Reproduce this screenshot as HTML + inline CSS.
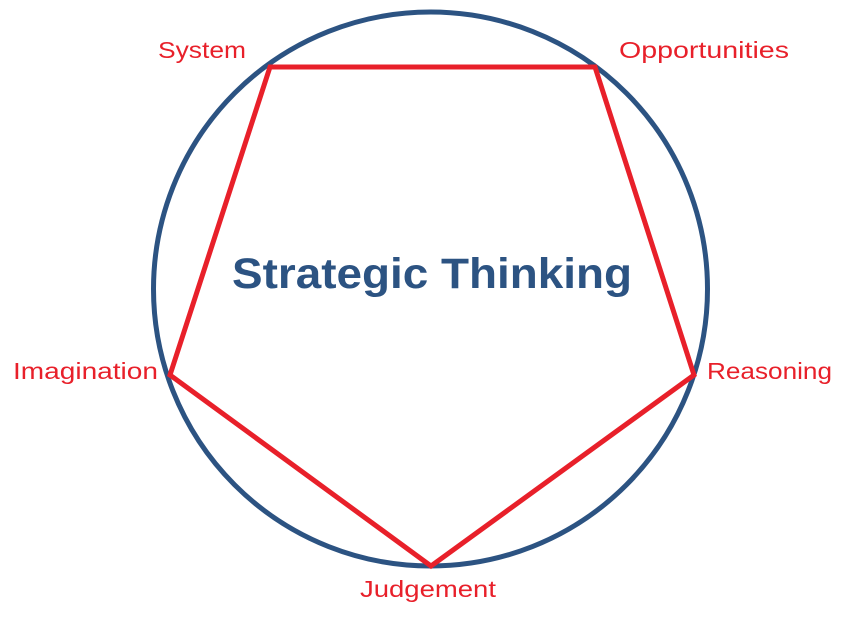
<!DOCTYPE html>
<html><head><meta charset="utf-8"><style>
html,body{margin:0;padding:0;background:#fff;}
svg{display:block;}
</style></head><body>
<svg width="843" height="626" viewBox="0 0 843 626" xmlns="http://www.w3.org/2000/svg">
<circle cx="430.5" cy="289" r="277" fill="none" stroke="#2c5382" stroke-width="5"/>
<polygon points="270,67 595,67 694,375 431,566 170,375" fill="none" stroke="#e8202a" stroke-width="5" stroke-linejoin="miter"/>
<text x="432" y="288" text-anchor="middle" font-family="Liberation Sans, sans-serif" font-weight="bold" font-size="43" fill="#2c5382" textLength="400" lengthAdjust="spacingAndGlyphs">Strategic Thinking</text>
<g font-family="Liberation Sans, sans-serif" font-size="23" fill="#e8202a">
<text x="158" y="58" textLength="88" lengthAdjust="spacingAndGlyphs">System</text>
<text x="619" y="58" textLength="170" lengthAdjust="spacingAndGlyphs">Opportunities</text>
<text x="13" y="379" textLength="145" lengthAdjust="spacingAndGlyphs">Imagination</text>
<text x="707" y="379" textLength="125" lengthAdjust="spacingAndGlyphs">Reasoning</text>
<text x="360" y="597" textLength="136" lengthAdjust="spacingAndGlyphs">Judgement</text>
</g>
</svg>
</body></html>
